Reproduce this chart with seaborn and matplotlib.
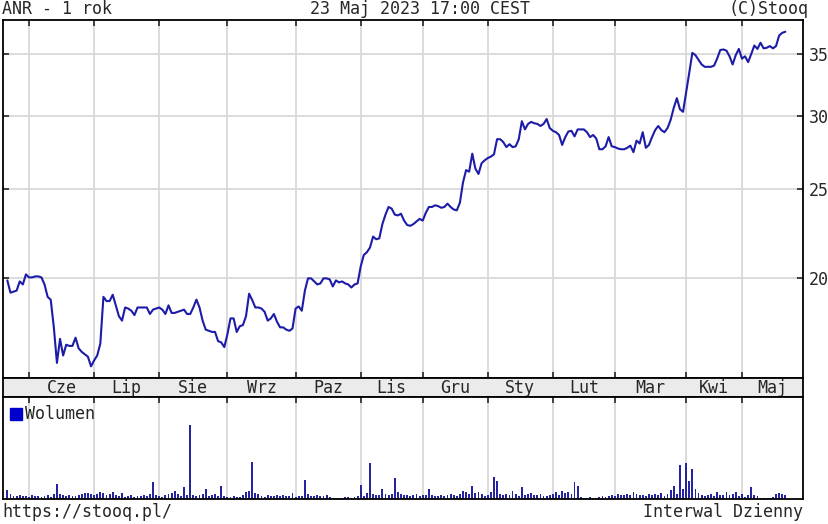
import numpy as np
import pandas as pd
import seaborn as sns
import matplotlib.pyplot as plt
from matplotlib.ticker import FixedLocator, NullLocator, FixedFormatter

# ----------------------
# ANR - 1 rok (daily close + volume)
# ----------------------

close = [
    19.9, 19.3, 19.35, 19.4, 19.85, 19.7, 20.2, 20.05, 20.05, 20.1,
    20.1, 20.05, 19.7, 19.1, 18.96, 17.7, 16.2, 17.2, 16.5, 16.95,
    16.9, 16.9, 17.25, 16.8, 16.65, 16.55, 16.45, 16.06, 16.3, 16.5,
    17.0, 19.1, 18.9, 18.9, 19.2, 18.7, 18.2, 18.0, 18.6, 18.55,
    18.45, 18.25, 18.6, 18.6, 18.6, 18.6, 18.3, 18.5, 18.55, 18.6,
    18.5, 18.3, 18.7, 18.35, 18.35, 18.4, 18.45, 18.5, 18.3, 18.3,
    18.6, 18.97, 18.6, 18.0, 17.6, 17.55, 17.5, 17.5, 17.1, 17.05,
    16.85, 17.4, 18.1, 18.1, 17.5, 17.75, 17.8, 18.2, 19.25, 18.95,
    18.6, 18.6, 18.55, 18.4, 18.0, 18.1, 18.3, 17.95, 17.7, 17.7,
    17.6, 17.55, 17.65, 18.55, 18.65, 18.45, 19.4, 20.0, 20.0, 19.85,
    19.7, 19.75, 20.0, 20.0, 19.95, 19.6, 19.9, 19.8, 19.85, 19.75,
    19.7, 19.55, 19.7, 19.75, 20.6, 21.2, 21.35, 21.6, 22.2, 22.05,
    22.1, 22.9, 23.45, 23.9, 23.8, 23.45, 23.4, 23.5, 23.1, 22.85,
    22.8, 22.9, 23.05, 23.2, 23.1, 23.55, 23.9, 23.9, 24.0, 23.95,
    23.85, 23.9, 24.1, 23.9, 23.75, 23.7, 24.15, 25.4, 26.2, 26.1,
    27.3, 26.3, 25.95, 26.65, 26.85, 27.0, 27.1, 27.25, 28.3, 28.3,
    28.1, 27.75, 27.95, 27.75, 27.8, 28.3, 29.6, 29.0, 29.4, 29.55,
    29.45, 29.4, 29.25, 29.4, 29.76, 29.1, 28.9, 28.8, 28.6, 27.9,
    28.45, 28.85, 28.9, 28.5, 29.0, 29.0, 29.0, 28.8, 28.45, 28.6,
    28.35, 27.6, 27.6, 27.8, 28.45, 27.8, 27.75, 27.65, 27.6, 27.6,
    27.7, 27.85, 27.4, 28.2, 28.0, 28.8, 27.7, 27.9, 28.45, 28.95,
    29.25, 28.95, 28.8, 29.1, 29.7, 30.6, 31.35, 30.5, 30.3, 31.8,
    33.4, 35.1, 34.9, 34.5, 34.1, 33.9, 33.9, 33.9, 34.0, 34.6,
    35.35, 35.4, 35.3, 34.8, 34.1, 34.9, 35.45, 34.6, 34.8, 34.3,
    35.0, 35.75, 35.45, 36.0, 35.5, 35.55, 35.7, 35.5, 35.7, 36.65,
    36.9, 37.0,
]

# volume in thousands of shares
volume = [
    225, 125, 75, 75, 100, 75, 75, 50, 100, 75,
    75, 50, 75, 100, 50, 125, 375, 125, 100, 75,
    100, 75, 75, 100, 125, 150, 150, 125, 100, 125,
    175, 150, 100, 125, 175, 100, 75, 150, 50, 75,
    100, 50, 75, 75, 100, 75, 125, 420, 100, 75,
    50, 100, 125, 150, 200, 125, 75, 300, 100, 1875,
    100, 75, 100, 125, 250, 75, 100, 125, 75, 325,
    75, 50, 50, 75, 50, 50, 100, 175, 200, 940,
    150, 125, 75, 50, 100, 75, 75, 100, 75, 100,
    75, 75, 150, 50, 75, 75, 475, 125, 75, 75,
    100, 75, 75, 100, 50, 25, 25, 25, 25, 50,
    50, 25, 50, 75, 340, 75, 150, 900, 125, 100,
    100, 250, 125, 100, 125, 525, 175, 125, 100, 100,
    75, 100, 125, 75, 100, 100, 250, 100, 75, 75,
    100, 75, 100, 125, 100, 75, 125, 200, 175, 125,
    325, 150, 175, 125, 75, 100, 175, 550, 450, 125,
    100, 125, 100, 200, 125, 75, 300, 100, 125, 150,
    100, 100, 125, 75, 75, 100, 125, 175, 100, 200,
    150, 175, 125, 425, 325, 50, 25, 25, 50, 25,
    25, 50, 75, 50, 75, 100, 75, 125, 100, 100,
    125, 100, 175, 125, 100, 100, 75, 125, 100, 125,
    100, 150, 75, 125, 225, 325, 125, 850, 250, 900,
    450, 750, 250, 150, 100, 75, 100, 125, 75, 175,
    100, 100, 175, 100, 125, 175, 75, 125, 50, 100,
    300, 100, 75, 25, 25, 25, 25, 50, 125, 150,
    125, 100,
]

months = ["Cze", "Lip", "Sie", "Wrz", "Paz", "Lis", "Gru", "Sty", "Lut", "Mar", "Kwi", "Maj"]
month_start = [7, 28, 49, 71, 93, 114, 134, 155, 176, 196, 219, 237]  # trading-day index
price_ticks = [20, 25, 30, 35]

df = pd.DataFrame({"day": np.arange(len(close)), "close": close, "volume": volume})

# ----------------------
# Layout
# ----------------------
sns.set_style("white")
plt.rcParams["font.family"] = ["DejaVu Sans Mono", "DejaVu Sans"]
plt.rcParams["font.size"] = 12

W, H = 829, 524
fig = plt.figure(figsize=(W / 100, H / 100), dpi=100)
ax = fig.add_axes([3 / W, 146 / H, 800 / W, 358 / H])
ax_m = fig.add_axes([3 / W, 127 / H, 800 / W, 19 / H])
ax_v = fig.add_axes([3 / W, 25 / H, 800 / W, 102 / H])

xlim = (-1.4, 256.7)
line_col = "#1c1ca8"
grid_col = "#d9d9d9"

# price line
sns.lineplot(data=df, x="day", y="close", ax=ax, color=line_col, linewidth=1.5)
ax.set_yscale("log")
ax.set_ylim(15.6, 38.1)
ax.set_xlim(*xlim)
ax.yaxis.set_major_locator(FixedLocator(price_ticks))
ax.yaxis.set_major_formatter(FixedFormatter([str(t) for t in price_ticks]))
ax.yaxis.set_minor_locator(NullLocator())
ax.xaxis.set_major_locator(FixedLocator(month_start))
ax.set_xticklabels([])
ax.yaxis.tick_right()
ax.tick_params(axis="both", which="major", direction="in", length=4, width=1.2,
               left=True, right=True, top=True, bottom=True, labelleft=False,
               labelright=True, labelbottom=False, pad=4, labelsize=12)
ax.grid(True, color=grid_col, linewidth=1.3)
ax.set_axisbelow(True)
ax.set_xlabel("")
ax.set_ylabel("")

# month strip
ax_m.set_facecolor("#ebebeb")
ax_m.set_xlim(*xlim)
ax_m.set_ylim(0, 1)
ax_m.set_xticks([])
ax_m.set_yticks([])
bounds = month_start + [xlim[1]]
for i, m in enumerate(months):
    ax_m.text((bounds[i] + bounds[i + 1]) / 2, 0.45, m, ha="center", va="center", fontsize=12)

# volume bars
ax_v.bar(df["day"], df["volume"], width=0.6, color="#2424a0", linewidth=0)
ax_v.set_xlim(*xlim)
ax_v.set_ylim(0, max(volume) * 1.37)
ax_v.xaxis.set_major_locator(FixedLocator(month_start))
ax_v.set_xticklabels([])
ax_v.set_yticks([])
ax_v.tick_params(axis="x", direction="in", length=4, width=1.2, top=True, bottom=False)
ax_v.grid(True, axis="x", color=grid_col, linewidth=1.3)
ax_v.set_axisbelow(True)
ax_v.plot([], [], "s", color="#0000cc", markersize=8, label="Wolumen")
ax_v.legend(loc="upper left", frameon=False, handlelength=0.6, handletextpad=0.2,
            borderaxespad=0.3, borderpad=0.2, fontsize=12)

for a in (ax, ax_m, ax_v):
    for s in a.spines.values():
        s.set_color("black")
        s.set_linewidth(1.3)

# header / footer texts
fig.text(2 / W, 1 - 9 / H, "ANR - 1 rok", ha="left", va="center", fontsize=12)
fig.text(420 / W, 1 - 9 / H, "23 Maj 2023 17:00 CEST", ha="center", va="center", fontsize=12)
fig.text(809 / W, 1 - 9 / H, "(C)Stooq", ha="right", va="center", fontsize=12)
fig.text(2 / W, 12 / H, "https://stooq.pl/", ha="left", va="center", fontsize=12)
fig.text(803 / W, 12 / H, "Interwal Dzienny", ha="right", va="center", fontsize=12)

fig.savefig("out.png", dpi=100)
